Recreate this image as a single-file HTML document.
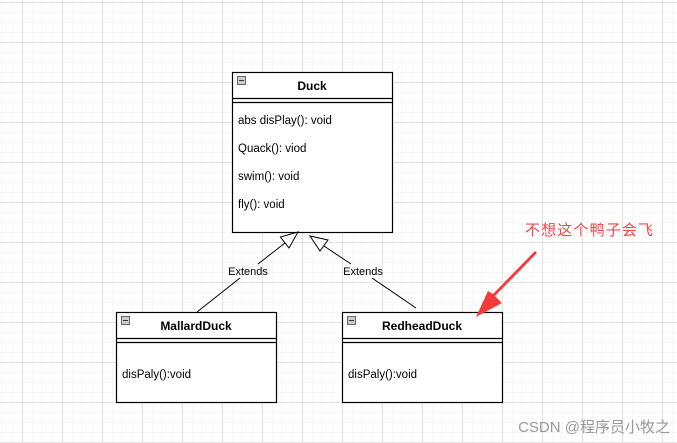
<!DOCTYPE html>
<html><head><meta charset="utf-8"><style>
html,body{margin:0;padding:0;}
body{width:677px;height:443px;overflow:hidden;background:#fff;
background-image:
linear-gradient(to right,#e2e2e2 1px,transparent 1px),
linear-gradient(to bottom,#e2e2e2 1px,transparent 1px),
linear-gradient(to right,#f7f7f7 1px,transparent 1px),
linear-gradient(to bottom,#f7f7f7 1px,transparent 1px);
background-size:40px 40px,40px 40px,10px 10px,10px 10px;
background-position:22px 2px,22px 2px,2px 2px,2px 2px;}
svg{position:absolute;left:0;top:0}
text{font-family:"Liberation Sans",Arial,sans-serif;}
</style></head><body>
<svg width="677" height="443" viewBox="0 0 677 443">
<g stroke="#000" fill="#fff" stroke-width="1.2">
<rect x="232.5" y="72.5" width="160" height="160"/>
<line x1="232" y1="98.5" x2="393" y2="98.5"/>
<line x1="232" y1="102.5" x2="393" y2="102.5"/>
<rect x="116.5" y="312.5" width="160" height="90"/>
<line x1="116" y1="338.5" x2="277" y2="338.5"/>
<line x1="116" y1="342.5" x2="277" y2="342.5"/>
<rect x="342.5" y="312.5" width="160" height="90"/>
<line x1="342" y1="338.5" x2="503" y2="338.5"/>
<line x1="342" y1="342.5" x2="503" y2="342.5"/>
</g>
<g fill="#ccc" stroke="#666" stroke-width="1">
<rect x="237.5" y="76.5" width="8" height="8"/>
<rect x="121.5" y="316.5" width="8" height="8"/>
<rect x="347.5" y="316.5" width="8" height="8"/>
</g>
<g stroke="#333" stroke-width="1"><line x1="239" y1="80.5" x2="244" y2="80.5"/><line x1="123" y1="320.5" x2="128" y2="320.5"/><line x1="349" y1="320.5" x2="354" y2="320.5"/></g>
<g font-size="12" font-weight="bold" text-anchor="middle" fill="#000">
<text x="312" y="90">Duck</text>
<text x="196" y="330">MallardDuck</text>
<text x="422" y="330">RedheadDuck</text>
</g>
<g font-size="11.5" fill="#000">
<text x="238" y="124">abs disPlay(): void</text>
<text x="238" y="152">Quack(): viod</text>
<text x="238" y="180">swim(): void</text>
<text x="238" y="208">fly(): void</text>
<text x="122" y="378">disPaly():void</text>
<text x="348" y="378">disPaly():void</text>
</g>
<g stroke="#000" stroke-width="1" fill="none">
<line x1="197" y1="312" x2="240" y2="278"/>
<line x1="258" y1="264" x2="285" y2="243"/>
<line x1="416" y1="308" x2="372" y2="278"/>
<line x1="351" y1="264" x2="324" y2="246"/>
</g>
<g stroke="#000" stroke-width="1" fill="#fff">
<polygon points="298,232 280.4,237 289,248"/>
<polygon points="310,236 328,240 320,251"/>
</g>
<g font-size="11" text-anchor="middle" fill="#000">
<text x="248" y="275">Extends</text>
<text x="363" y="275">Extends</text>
</g>
<text x="525" y="235" font-size="15" fill="#f04848" textLength="128" style='font-family:"Liberation Sans","Noto Sans CJK SC",sans-serif'>不想这个鸭子会飞</text>
<polygon points="535,251 537,253 495,296 502,303 476,317 488,291 493,294" fill="#f43b3b"/>
<text x="670" y="432" font-size="15" fill="#999" text-anchor="end" style='font-family:"Liberation Sans","Noto Sans CJK SC",sans-serif'>CSDN @程序员小牧之</text>
</svg>
</body></html>
